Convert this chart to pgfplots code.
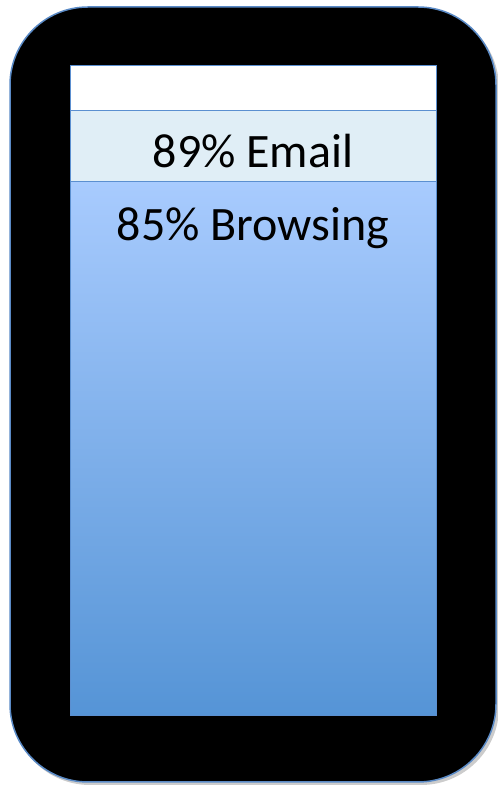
\documentclass[border=0pt]{standalone}
\usepackage{pgfplots}
\pgfplotsset{compat=1.18}
\usepackage{fontspec}
\setmainfont{Carlito}
\definecolor{outline}{HTML}{5A8AC6}
\definecolor{bandline}{HTML}{5B8FD0}
\definecolor{emailc}{HTML}{E0EEF6}
\definecolor{brtop}{HTML}{A8CBFE}
\definecolor{brbot}{HTML}{5594D6}
\begin{document}
\begin{tikzpicture}[x=1bp,y=1bp]
\useasboundingbox (0,0) rectangle (498,786);
\fill[black!40,opacity=0.5,rounded corners=78bp] (12,1) rectangle (499,776);
\draw[outline,line width=1.5bp,fill=black,rounded corners=78bp] (10,4) rectangle (496,779);
\begin{axis}[
  at={(70bp,70bp)}, anchor=south west,
  width=366bp, height=650bp, scale only axis,
  xmin=-0.5, xmax=0.5, ymin=54.86, ymax=91.48,
  ticks=none, axis on top,
  axis line style={bandline,line width=1bp},
  axis background/.style={fill=white},
]
\addplot[draw=bandline, line width=1bp, fill=emailc, mark=none]
  coordinates {(-0.5,54.86) (0.5,54.86) (0.5,89) (-0.5,89) (-0.5,54.86)};
\addplot[draw=bandline, line width=1bp, top color=brtop, bottom color=brbot, mark=none]
  coordinates {(-0.5,54.86) (0.5,54.86) (0.5,85) (-0.5,85) (-0.5,54.86)};
\node[anchor=base, yshift=-57.3bp, font=\fontsize{48bp}{56bp}\selectfont] at (axis cs:0,89) {89\% Email};
\node[anchor=base, yshift=-59bp, font=\fontsize{48bp}{56bp}\selectfont] at (axis cs:0,85) {85\% Browsing};
\end{axis}
\end{tikzpicture}
\end{document}
